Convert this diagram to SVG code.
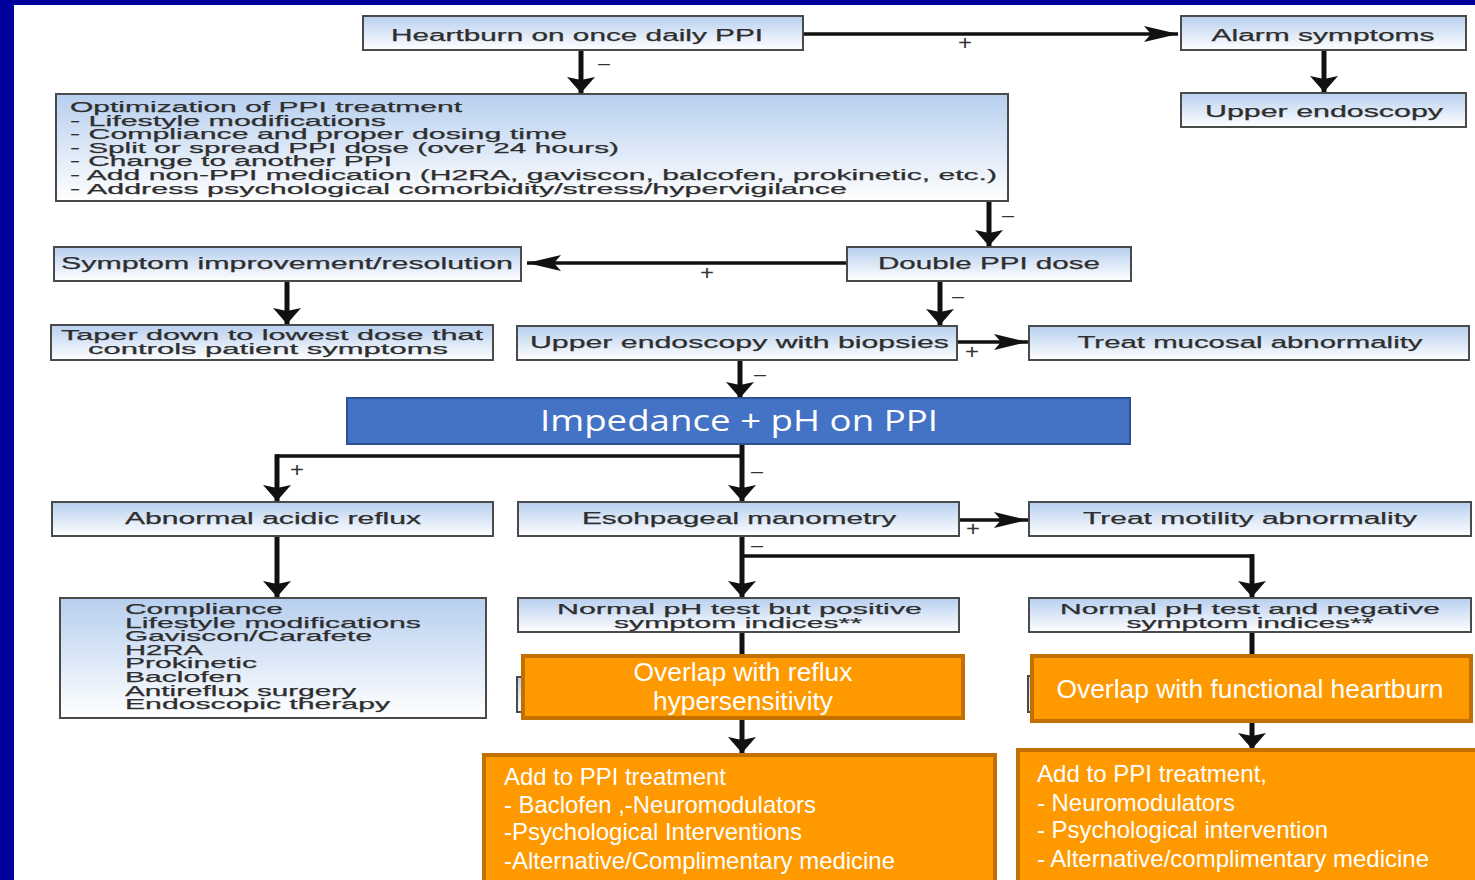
<svg xmlns="http://www.w3.org/2000/svg" width="1475" height="880" viewBox="0 0 1475 880">
<style>
.bx{fill:url(#g);stroke:#4a4a4a;stroke-width:2}
.t{font-family:"Liberation Sans",Arial,sans-serif;font-size:16px;fill:#2e2e2e;stroke:#2e2e2e;stroke-width:0.25}
.m{font-size:15px}
.c{text-anchor:middle}
.or{fill:#FF9900;stroke:#C27100;stroke-width:4}
.ot{font-family:"Liberation Sans",Arial,sans-serif;fill:#ffffff}
.lv{fill:none;stroke:#111;stroke-width:5}
.lh{fill:none;stroke:#111;stroke-width:3.5}
.lb{font-family:"Liberation Sans",Arial,sans-serif;font-size:20px;fill:#333;text-anchor:middle}
</style>
<defs>
<linearGradient id="g" x1="0" y1="0" x2="0" y2="1">
<stop offset="0" stop-color="#B7CFEF"/>
<stop offset="1" stop-color="#FFFFFF"/>
</linearGradient>
<marker id="av" viewBox="0 0 16 28" refX="16" refY="14" markerWidth="16" markerHeight="28" markerUnits="userSpaceOnUse" orient="auto">
<path d="M0,0 L16,14 L0,28 L3,14 z" fill="#111"/>
</marker>
<marker id="ah" viewBox="0 0 34 16" refX="34" refY="8" markerWidth="34" markerHeight="16" markerUnits="userSpaceOnUse" orient="auto">
<path d="M0,0 L34,8 L0,16 L7,8 z" fill="#111"/>
</marker>
</defs>
<rect x="0" y="0" width="1475" height="880" fill="#ffffff"/>
<rect x="0" y="0" width="1475" height="5" fill="#00009A"/>
<rect x="0" y="0" width="14" height="880" fill="#00009A"/>

<g id="connectors">
<path class="lv" d="M581,50 V93" marker-end="url(#av)"/>
<path class="lh" d="M803,34 H1178" marker-end="url(#ah)"/>
<path class="lv" d="M1324,50 V92" marker-end="url(#av)"/>
<path class="lv" d="M989,201 V246" marker-end="url(#av)"/>
<path class="lh" d="M847,263 H527" marker-end="url(#ah)"/>
<path class="lv" d="M287,281 V324" marker-end="url(#av)"/>
<path class="lv" d="M940,281 V325" marker-end="url(#av)"/>
<path class="lh" d="M957,342 H1028" marker-end="url(#ah)"/>
<path class="lv" d="M740,360 V398" marker-end="url(#av)"/>
<path class="lv" d="M742,444 V501" marker-end="url(#av)"/>
<path class="lh" d="M744,456 H275"/>
<path class="lv" d="M277,454.3 V501" marker-end="url(#av)"/>
<path class="lv" d="M277,536 V597" marker-end="url(#av)"/>
<path class="lh" d="M959,520 H1028" marker-end="url(#ah)"/>
<path class="lv" d="M742,537 V597" marker-end="url(#av)"/>
<path class="lh" d="M742,556 H1254"/>
<path class="lv" d="M1252,554.3 V597" marker-end="url(#av)"/>
<path class="lv" d="M742,633 V656"/>
<path class="lv" d="M1252,633 V656"/>
<path class="lv" d="M742,719 V753" marker-end="url(#av)"/>
<path class="lv" d="M1252,723 V749" marker-end="url(#av)"/>
<text class="lb" x="604" y="70" textLength="12" lengthAdjust="spacingAndGlyphs">–</text>
<text class="lb" x="965" y="50" textLength="14" lengthAdjust="spacingAndGlyphs">+</text>
<text class="lb" x="1008" y="222" textLength="12" lengthAdjust="spacingAndGlyphs">–</text>
<text class="lb" x="707" y="280" textLength="14" lengthAdjust="spacingAndGlyphs">+</text>
<text class="lb" x="958" y="303" textLength="12" lengthAdjust="spacingAndGlyphs">–</text>
<text class="lb" x="972" y="359" textLength="14" lengthAdjust="spacingAndGlyphs">+</text>
<text class="lb" x="760" y="381" textLength="12" lengthAdjust="spacingAndGlyphs">–</text>
<text class="lb" x="757" y="478" textLength="12" lengthAdjust="spacingAndGlyphs">–</text>
<text class="lb" x="297" y="477" textLength="14" lengthAdjust="spacingAndGlyphs">+</text>
<text class="lb" x="973" y="536" textLength="14" lengthAdjust="spacingAndGlyphs">+</text>
<text class="lb" x="757" y="552" textLength="12" lengthAdjust="spacingAndGlyphs">–</text>
</g>

<g id="n-heartburn">
<rect class="bx" x="363" y="16" width="440" height="34"/>
<text class="t c" x="577" y="41" textLength="372" lengthAdjust="spacingAndGlyphs">Heartburn on once daily PPI</text>
</g>
<g id="n-alarm">
<rect class="bx" x="1181" y="16" width="285" height="34"/>
<text class="t c" x="1323" y="41" textLength="223" lengthAdjust="spacingAndGlyphs">Alarm symptoms</text>
</g>
<g id="n-upper-endoscopy">
<rect class="bx" x="1181" y="93" width="285" height="34"/>
<text class="t c" x="1324" y="117" textLength="238" lengthAdjust="spacingAndGlyphs">Upper endoscopy</text>
</g>
<g id="n-optimization">
<rect class="bx" x="56" y="94" width="952" height="107"/>
<text class="t m" x="70" y="112" textLength="392" lengthAdjust="spacingAndGlyphs">Optimization of PPI treatment</text>
<text class="t m" x="70" y="125.5" textLength="316" lengthAdjust="spacingAndGlyphs">- Lifestyle modifications</text>
<text class="t m" x="70" y="139" textLength="497" lengthAdjust="spacingAndGlyphs">- Compliance and proper dosing time</text>
<text class="t m" x="70" y="152.5" textLength="549" lengthAdjust="spacingAndGlyphs">- Split or spread PPI dose (over 24 hours)</text>
<text class="t m" x="70" y="166" textLength="322" lengthAdjust="spacingAndGlyphs">- Change to another PPI</text>
<text class="t m" x="70" y="180" textLength="927" lengthAdjust="spacingAndGlyphs">- Add non-PPI medication (H2RA, gaviscon, balcofen, prokinetic, etc.)</text>
<text class="t m" x="70" y="193.5" textLength="777" lengthAdjust="spacingAndGlyphs">- Address psychological comorbidity/stress/hypervigilance</text>
</g>
<g id="n-symptom">
<rect class="bx" x="54" y="247" width="467" height="34"/>
<text class="t c" x="287" y="269" textLength="452" lengthAdjust="spacingAndGlyphs">Symptom improvement/resolution</text>
</g>
<g id="n-double">
<rect class="bx" x="847" y="247" width="284" height="34"/>
<text class="t c" x="989" y="269" textLength="222" lengthAdjust="spacingAndGlyphs">Double PPI dose</text>
</g>
<g id="n-taper">
<rect class="bx" x="51" y="325" width="442" height="35"/>
<text class="t m c" x="272" y="340" textLength="422" lengthAdjust="spacingAndGlyphs">Taper down to lowest dose that</text>
<text class="t m c" x="268" y="353.5" textLength="360" lengthAdjust="spacingAndGlyphs">controls patient symptoms</text>
</g>
<g id="n-biopsies">
<rect class="bx" x="517" y="326" width="440" height="34"/>
<text class="t c" x="739.5" y="348" textLength="419" lengthAdjust="spacingAndGlyphs">Upper endoscopy with biopsies</text>
</g>
<g id="n-mucosal">
<rect class="bx" x="1029" y="326" width="440" height="34"/>
<text class="t c" x="1250" y="348" textLength="345" lengthAdjust="spacingAndGlyphs">Treat mucosal abnormality</text>
</g>
<g id="n-impedance">
<rect x="347" y="398" width="783" height="46" fill="#4472C4" stroke="#2F528F" stroke-width="2"/>
<text x="739" y="431" text-anchor="middle" font-family="'Open Sans',sans-serif" font-size="29" fill="#ffffff" textLength="398" lengthAdjust="spacingAndGlyphs">Impedance + pH on PPI</text>
</g>
<g id="n-abnormal">
<rect class="bx" x="52" y="502" width="441" height="34"/>
<text class="t c" x="273" y="524" textLength="296" lengthAdjust="spacingAndGlyphs">Abnormal acidic reflux</text>
</g>
<g id="n-manometry">
<rect class="bx" x="518" y="502" width="441" height="34"/>
<text class="t c" x="739" y="524" textLength="314" lengthAdjust="spacingAndGlyphs">Esohpageal manometry</text>
</g>
<g id="n-motility">
<rect class="bx" x="1029" y="502" width="442" height="34"/>
<text class="t c" x="1250" y="524" textLength="334" lengthAdjust="spacingAndGlyphs">Treat motility abnormality</text>
</g>
<g id="n-compliance">
<rect class="bx" x="60" y="598" width="426" height="120"/>
<text class="t m" x="125" y="614" textLength="158" lengthAdjust="spacingAndGlyphs">Compliance</text>
<text class="t m" x="125" y="627.6" textLength="296" lengthAdjust="spacingAndGlyphs">Lifestyle modifications</text>
<text class="t m" x="125" y="641.2" textLength="247" lengthAdjust="spacingAndGlyphs">Gaviscon/Carafete</text>
<text class="t m" x="125" y="654.8" textLength="78" lengthAdjust="spacingAndGlyphs">H2RA</text>
<text class="t m" x="125" y="668.4" textLength="132" lengthAdjust="spacingAndGlyphs">Prokinetic</text>
<text class="t m" x="125" y="682" textLength="117" lengthAdjust="spacingAndGlyphs">Baclofen</text>
<text class="t m" x="125" y="695.6" textLength="231" lengthAdjust="spacingAndGlyphs">Antireflux surgery</text>
<text class="t m" x="125" y="709.2" textLength="265" lengthAdjust="spacingAndGlyphs">Endoscopic therapy</text>
</g>
<g id="n-normal-positive">
<rect class="bx" x="518" y="598" width="441" height="34"/>
<text class="t m c" x="739.5" y="614" textLength="365" lengthAdjust="spacingAndGlyphs">Normal pH test but positive</text>
<text class="t m c" x="738" y="627.5" textLength="248" lengthAdjust="spacingAndGlyphs">symptom indices**</text>
</g>
<g id="n-normal-negative">
<rect class="bx" x="1029" y="598" width="442" height="34"/>
<text class="t m c" x="1250" y="614" textLength="380" lengthAdjust="spacingAndGlyphs">Normal pH test and negative</text>
<text class="t m c" x="1250" y="627.5" textLength="247" lengthAdjust="spacingAndGlyphs">symptom indices**</text>
</g>
<g id="n-reflux-hypersensitivity">
<rect class="bx" x="517" y="677" width="12" height="35"/>
<rect class="or" x="523" y="656" width="440" height="62"/>
<text class="ot" x="743" y="681" font-size="26" text-anchor="middle" textLength="219" lengthAdjust="spacingAndGlyphs">Overlap with reflux</text>
<text class="ot" x="743" y="710" font-size="26" text-anchor="middle" textLength="180" lengthAdjust="spacingAndGlyphs">hypersensitivity</text>
</g>
<g id="n-functional-heartburn">
<rect class="bx" x="1028" y="676" width="12" height="36"/>
<rect class="or" x="1032" y="656" width="439" height="65"/>
<text class="ot" x="1250" y="698" font-size="26" text-anchor="middle" textLength="387" lengthAdjust="spacingAndGlyphs">Overlap with functional heartburn</text>
</g>
<g id="n-add-left">
<rect class="or" x="484" y="755" width="511" height="135"/>
<text class="ot" x="504" y="785" font-size="24" textLength="222" lengthAdjust="spacingAndGlyphs">Add to PPI treatment</text>
<text class="ot" x="504" y="813" font-size="24" textLength="312" lengthAdjust="spacingAndGlyphs">- Baclofen ,-Neuromodulators</text>
<text class="ot" x="504" y="840" font-size="24" textLength="298" lengthAdjust="spacingAndGlyphs">-Psychological Interventions</text>
<text class="ot" x="504" y="869" font-size="24" textLength="391" lengthAdjust="spacingAndGlyphs">-Alternative/Complimentary medicine</text>
</g>
<g id="n-add-right">
<rect class="or" x="1018" y="750" width="470" height="140"/>
<text class="ot" x="1037" y="782" font-size="24" textLength="230" lengthAdjust="spacingAndGlyphs">Add to PPI treatment,</text>
<text class="ot" x="1037" y="811" font-size="24" textLength="198" lengthAdjust="spacingAndGlyphs">- Neuromodulators</text>
<text class="ot" x="1037" y="838" font-size="24" textLength="291" lengthAdjust="spacingAndGlyphs">- Psychological intervention</text>
<text class="ot" x="1037" y="867" font-size="24" textLength="392" lengthAdjust="spacingAndGlyphs">- Alternative/complimentary medicine</text>
</g>
</svg>
